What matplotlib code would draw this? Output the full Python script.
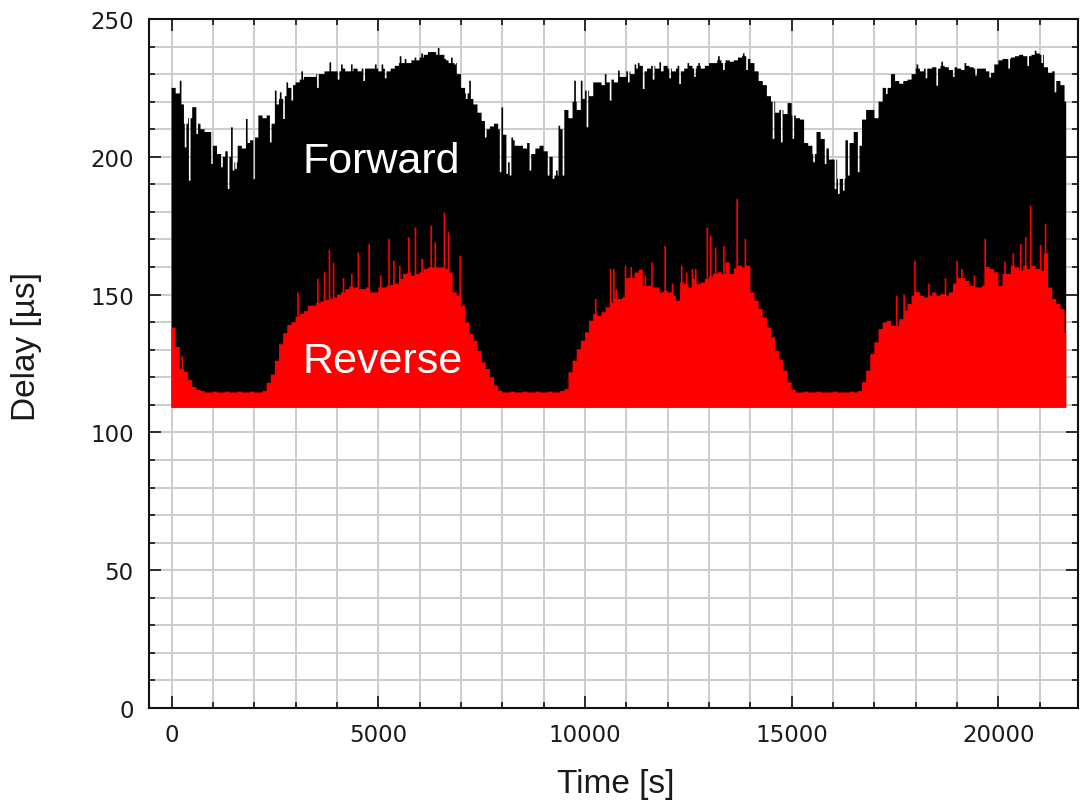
import matplotlib.pyplot as plt
import numpy as np
from matplotlib.ticker import MultipleLocator

# per-100 s level of each delay trace, starting at t = 0 s
bin_s = 100
forward_us = [
    225, 223, 219, 212, 214, 218, 212, 210, 209, 209,
    204, 201, 200, 202, 200, 198, 204, 203, 205, 206,
    207, 215, 214, 215, 212, 219, 221, 222, 225, 226,
    227, 228, 229, 229, 229, 230, 230, 231, 231, 231,
    231, 232, 231, 231, 232, 231, 232, 232, 232, 232,
    231, 232, 231, 232, 233, 234, 234, 234, 235, 235,
    236, 237, 238, 238, 237, 237, 235, 234, 234, 230,
    225, 223, 221, 219, 216, 213, 210, 211, 212, 210,
    208, 205, 206, 204, 204, 203, 205, 201, 203, 204,
    202, 200, 200, 195, 210, 217, 214, 220, 217, 221,
    224, 222, 227, 227, 226, 227, 228, 227, 229, 229,
    231, 230, 232, 233, 231, 232, 233, 232, 231, 233,
    232, 231, 232, 231, 232, 233, 232, 233, 232, 233,
    234, 234, 235, 234, 235, 234.5, 235, 236, 236.5, 235.5,
    234, 231, 227.5, 226, 222, 220, 216, 217, 215.5, 219.5,
    215, 214, 213.5, 205, 204, 201, 209, 206.5, 203, 199,
    199, 192, 192, 206, 205, 209, 204, 213.5, 217, 217,
    214, 220, 225, 225, 230, 227.5, 226.5, 227.5, 228, 230,
    232, 231, 232, 232, 232.5, 232, 233, 232.5, 231.5, 232.5,
    232, 231.5, 233, 232.5, 232, 232, 232, 231, 230.5, 233.5,
    235, 235.5, 235.5, 236, 236.5, 237, 236.5, 236.5, 237, 237.5,
    237, 232.5, 230.5, 231, 227.5, 226, 220,
]
reverse_us = [
    138, 131, 123, 122, 119, 116.5, 115.5, 115, 114.5, 114.5,
    114.8, 114.5, 114.5, 114.8, 114.5, 114.5, 114.8, 114.5, 114.5, 114.8,
    114.5, 114.5, 115, 118, 121, 126, 132, 136, 139, 140,
    142, 143, 144, 146, 146, 147, 147.5, 148, 148.5, 149,
    150, 150.8, 152, 153, 152.6, 152, 152, 152.6, 150.8, 150.8,
    152.6, 152.6, 153.2, 153.5, 154, 155.7, 157.5, 158, 156.9, 157.5,
    158.1, 159.3, 159.9, 159.9, 159.9, 159.9, 159.3, 158, 150.8, 149.6,
    146, 139.9, 135.7, 133.3, 129.6, 125.4, 123, 120, 117, 115.1,
    114.5, 114.5, 114.8, 114.5, 114.5, 114.8, 114.5, 114.5, 114.8, 114.5,
    114.5, 114.8, 114.5, 114.5, 115, 115.7, 121.8, 126, 130.2, 133.3,
    136.3, 140.5, 143, 142.3, 143.6, 145.4, 147.2, 148.4, 148.4, 149,
    156, 156, 158, 159, 153.2, 153.2, 152.6, 152.6, 150.8, 151.4,
    150.8, 149.6, 147.8, 154.4, 153.8, 152.6, 155.7, 153.8, 154.4, 155.7,
    156.6, 157.5, 158.1, 157.5, 161.7, 157.5, 159.5, 160.5, 159.9, 160.5,
    150.8, 147.8, 144.8, 141.7, 138.1, 134.5, 129.6, 126.4, 122.4, 118.2,
    115.5, 114.5, 114.5, 114.8, 114.5, 114.5, 114.8, 114.5, 114.5, 114.5,
    114.8, 114.5, 114.5, 114.5, 114.8, 114.5, 115, 118.2, 122.4, 128.4,
    132.7, 137.5, 139.9, 140.5, 138.7, 138.7, 141.1, 144.2, 146.6, 149.6,
    151, 149.6, 149, 149.6, 150.8, 149.6, 150.2, 149.6, 150.8, 154,
    156, 156, 155, 153.2, 152.6, 152.6, 153.2, 160, 159.3, 158.1,
    153.2, 157.5, 157.5, 160.5, 159.9, 158.7, 160.5, 159.3, 160.5, 159.3,
    158.7, 165, 152.6, 148.4, 146.6, 144.8, 136.3,
]

# short excursions (time [s], delay [us]) on top of the 100 s levels
forward_spikes = [
    (206, 227.6), (327, 203.4), (423, 191.3), (617, 208.3), (972, 197.4),
    (1214, 196.2), (1375, 188.3), (1456, 210.7), (1496, 195.0), (1552, 195.6),
    (1819, 213.7), (1980, 191.9), (2383, 205.2), (2512, 224.0), (2625, 223.4),
    (2706, 213.7), (2788, 227.0), (2907, 220.4),
    (3149, 231.0), (3520, 225.0), (3835, 234.3), (4020, 228.0), (4117, 233.5),
    (4357, 233.5), (4650, 227.5), (4921, 233.5), (5083, 233.5), (5170, 228.5),
    (5526, 236.5), (5647, 235.5), (5889, 236.0), (6051, 237.5), (6450, 239.5),
    (6614, 235.5), (6776, 236.0), (6856, 233.5),
    (7138, 221.0), (7219, 227.6), (7582, 207.0), (7944, 194.4), (7985, 217.9),
    (8106, 193.8), (8146, 198.0), (8186, 193.2), (8226, 207.0),
    (8670, 195.0), (9113, 193.2), (9234, 192.0), (9274, 193.2), (9355, 193.2),
    (9379, 211.3), (9476, 193.2), (9758, 227.6), (9919, 227.6), (10040, 210.7),
    (10484, 230.0), (10604, 220.4), (10806, 231.3), (11050, 227.0),
    (11209, 233.5), (11290, 234.0), (11410, 224.6), (11650, 228.0),
    (11814, 234.3), (12050, 228.5), (12241, 233.0), (12298, 226.4),
    (12499, 234.0), (12650, 229.0), (12741, 234.0),
    (13225, 236.5), (13346, 231.5), (13830, 237.5), (13911, 231.5),
    (14555, 206.5), (14756, 205.2), (15039, 206.5), (15522, 198.0),
    (15805, 197.4), (16047, 188.3), (16127, 186.5), (16248, 187.7),
    (16369, 193.2), (16611, 194.4),
    (17296, 222.8), (18021, 233.5), (18250, 228.5), (18504, 225.8),
    (18625, 234.5), (18900, 229.0), (19190, 234.0), (19450, 229.5),
    (19794, 228.8), (20250, 232.0), (20700, 233.0), (20882, 238.5),
    (21050, 234.0), (21367, 223.4),
]
reverse_spikes = [
    (246, 127.8), (3052, 150.8), (3536, 155.7), (3698, 158.1), (3810, 166.3),
    (3915, 161.5), (4150, 156.0), (4350, 157.5), (4502, 165.3), (4760, 168.3),
    (5050, 157.0), (5244, 170.2), (5365, 162.3), (5500, 160.5), (5728, 170.8),
    (5889, 174.4), (6050, 163.0), (6276, 175.0), (6373, 169.0), (6591, 179.8),
    (6695, 172.6), (6977, 164.1),
    (10242, 148.4), (10604, 159.3), (10685, 159.3), (10750, 152.0),
    (10967, 160.5), (11100, 160.0), (11450, 157.0), (11612, 161.7),
    (11935, 167.7), (12100, 154.0), (12338, 160.5), (12450, 158.0),
    (12580, 159.3), (12660, 159.3), (12942, 174.4),
    (13023, 171.4), (13144, 167.1), (13346, 167.7), (13669, 184.7),
    (13871, 170.2),
    (17537, 149.6), (17700, 150.0), (17965, 162.3), (18300, 154.0),
    (18700, 156.0), (18989, 162.3), (19109, 159.3), (19400, 157.0),
    (19674, 170.2), (20150, 162.0), (20350, 165.0), (20520, 168.4),
    (20641, 170.8), (20762, 182.3), (21004, 168.0), (21125, 175.6),
]

floor_us = 109
t_end = 21640
step_s = 20


def trace(levels, spikes):
    # hold each 100 s level on a 20 s grid, then drop in the short excursions
    vals = np.repeat(np.asarray(levels, dtype=float), bin_s // step_s)
    for t, v in spikes:
        i = int(t // step_s)
        vals[i:i + 2] = v
    n = t_end // step_s
    edges = np.arange(n + 1) * step_s
    return edges, vals[:n]


fig = plt.figure(figsize=(10.87, 8.04), dpi=100)
ax = fig.add_axes([149 / 1087, 1 - 709 / 804, 929 / 1087, 689 / 804])

edges, fwd = trace(forward_us, forward_spikes)
ax.stairs(fwd, edges, baseline=floor_us, fill=True, color='black', lw=0)
edges, rev = trace(reverse_us, reverse_spikes)
ax.stairs(rev, edges, baseline=floor_us, fill=True, color='#ff0000', lw=0)

ax.set_xlim(-545, 21925)
ax.set_ylim(0, 250)
ax.xaxis.set_major_locator(MultipleLocator(5000))
ax.xaxis.set_minor_locator(MultipleLocator(1000))
ax.yaxis.set_major_locator(MultipleLocator(50))
ax.yaxis.set_minor_locator(MultipleLocator(10))

ax.set_axisbelow(True)
ax.grid(which='both', color='#cccccc', lw=1.4)
ax.tick_params(which='both', direction='in', top=True, right=True,
               width=1.1, color='black')
ax.tick_params(which='major', length=8.6)
ax.tick_params(which='minor', length=4.3)
ax.tick_params(axis='x', pad=11)
ax.tick_params(axis='y', pad=11)
for lab in ax.get_xticklabels() + ax.get_yticklabels():
    lab.set_fontfamily('DejaVu Sans')
    lab.set_fontsize(16.5)
    lab.set_color('#1a1a1a')
for sp in ax.spines.values():
    sp.set_linewidth(1.5)
    sp.set_color('#111111')

ax.text(3160, 194.5, 'Forward', color='white', fontsize=31,
        family='Liberation Sans', va='baseline', ha='left')
ax.text(3160, 121.9, 'Reverse', color='white', fontsize=31,
        family='Liberation Sans', va='baseline', ha='left')

fig.text(616 / 1087, 1 - 793 / 804, 'Time [s]', fontsize=24,
         family='Liberation Sans', color='#1a1a1a',
         ha='center', va='baseline')
fig.text(35 / 1087, 1 - 347 / 804, 'Delay [µs]', fontsize=24,
         family='Liberation Sans', color='#1a1a1a', rotation=90,
         rotation_mode='anchor', ha='center', va='baseline')

fig.savefig('out.png', dpi=100)
